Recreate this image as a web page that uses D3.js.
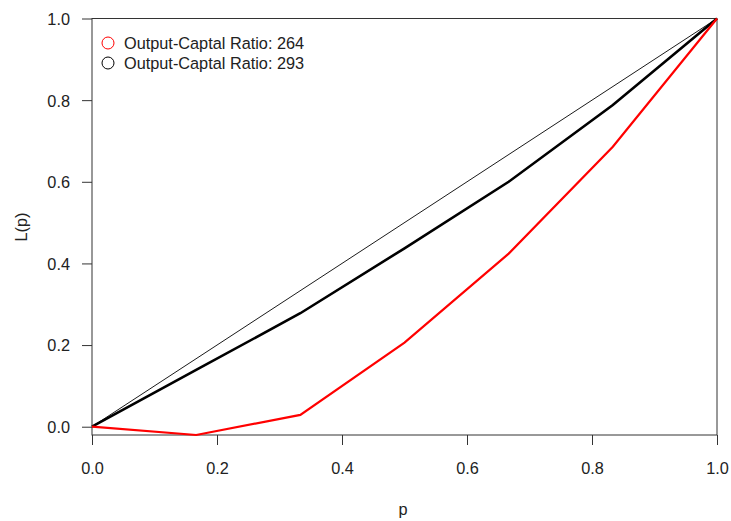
<!DOCTYPE html>
<html>
<head>
<meta charset="utf-8">
<script src="https://cdn.jsdelivr.net/npm/d3@7"></script>
<style>
  body { margin: 0; background: #fff; }
  text { font-family: "Liberation Sans", Arial, sans-serif; fill: #222; }
</style>
</head>
<body>
<svg id="chart" width="731" height="521"></svg>
<script>
// Lorenz curve points, p = 0, 1/6, ..., 1
const pValues = [0, 1 / 6, 2 / 6, 3 / 6, 4 / 6, 5 / 6, 1];
const ratio264 = [0, -0.0203, 0.029, 0.206, 0.424, 0.686, 1];
const ratio293 = [0, 0.139, 0.278, 0.437, 0.600, 0.788, 1];
const equality = [0, 1];
const xTicks = [0, 0.2, 0.4, 0.6, 0.8, 1.0];
const yTicks = [0, 0.2, 0.4, 0.6, 0.8, 1.0];
const legendLabels = ['Output-Captal Ratio: 264', 'Output-Captal Ratio: 293'];
const legendColors = ['#ff0000', '#000000'];

const svg = d3.select('#chart');
const fontSize = 16.3;

// plot box matches the data range (like R's xaxs/yaxs = "i")
const x = d3.scaleLinear().domain([0, 1]).range([92, 717]);
const y = d3.scaleLinear().domain([-0.0203, 1]).range([435, 18.5]);

// x axis
const xAxis = svg.append('g')
  .attr('transform', `translate(0,${y.range()[0]})`)
  .call(d3.axisBottom(x).tickValues(xTicks).tickFormat(d3.format('.1f')).tickSize(10).tickSizeOuter(0));
xAxis.select('.domain').remove();
xAxis.selectAll('line').attr('stroke', '#333');
xAxis.selectAll('text').attr('dy', 0).attr('y', 39).attr('font-size', fontSize);

// y axis
const yAxis = svg.append('g')
  .attr('transform', `translate(${x.range()[0]},0)`)
  .call(d3.axisLeft(y).tickValues(yTicks).tickFormat(d3.format('.1f')).tickSize(10).tickSizeOuter(0));
yAxis.select('.domain').remove();
yAxis.selectAll('line').attr('stroke', '#333');
yAxis.selectAll('text').attr('x', -22).attr('dy', '0.36em').attr('font-size', fontSize);

// box
svg.append('rect')
  .attr('x', x.range()[0])
  .attr('y', y.range()[1])
  .attr('width', x.range()[1] - x.range()[0])
  .attr('height', y.range()[0] - y.range()[1])
  .attr('fill', 'none')
  .attr('stroke', '#333')
  .attr('stroke-width', 1);

// axis titles
svg.append('text')
  .attr('x', 403)
  .attr('y', 515)
  .attr('text-anchor', 'middle')
  .attr('font-size', fontSize)
  .text('p');

svg.append('text')
  .attr('transform', 'translate(27,227) rotate(-90)')
  .attr('text-anchor', 'middle')
  .attr('font-size', fontSize)
  .text('L(p)');

const line = d3.line()
  .x((d) => x(d[0]))
  .y((d) => y(d[1]));

// equality line
svg.append('path')
  .attr('d', line(equality.map((v) => [v, v])))
  .attr('fill', 'none')
  .attr('stroke', '#000')
  .attr('stroke-width', 0.9);

// 293 curve
svg.append('path')
  .attr('d', line(pValues.map((p, i) => [p, ratio293[i]])))
  .attr('fill', 'none')
  .attr('stroke', '#000')
  .attr('stroke-width', 2.6);

// 264 curve
svg.append('path')
  .attr('d', line(pValues.map((p, i) => [p, ratio264[i]])))
  .attr('fill', 'none')
  .attr('stroke', '#ff0000')
  .attr('stroke-width', 2.2);

// legend
const legend = svg.append('g').attr('transform', 'translate(108,43)');
legendLabels.forEach((label, i) => {
  const row = legend.append('g').attr('transform', `translate(0,${i * 20})`);
  row.append('circle')
    .attr('r', 6)
    .attr('fill', 'none')
    .attr('stroke', legendColors[i])
    .attr('stroke-width', 1);
  row.append('text')
    .attr('x', 16)
    .attr('dy', '0.36em')
    .attr('font-size', fontSize)
    .text(label);
});
</script>
</body>
</html>
